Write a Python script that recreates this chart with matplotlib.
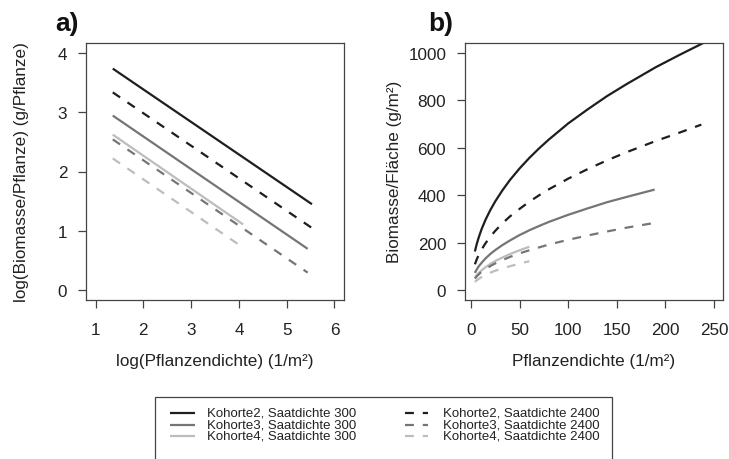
import matplotlib
matplotlib.use('Agg')
import matplotlib.pyplot as plt
from matplotlib.lines import Line2D
from matplotlib.patches import Rectangle

plt.rcParams['font.family'] = ['Liberation Sans', 'DejaVu Sans']

W, H = 729, 460

# ---------------- data ----------------
series_labels = ["Kohorte2, Saatdichte 300", "Kohorte3, Saatdichte 300", "Kohorte4, Saatdichte 300",
                 "Kohorte2, Saatdichte 2400", "Kohorte3, Saatdichte 2400", "Kohorte4, Saatdichte 2400"]

# panel a: log(biomass/plant) vs log(density), straight lines (start, end)
a_k2_x = [1.36, 5.53]
a_k2_300_y = [3.73, 1.45]
a_k2_2400_y = [3.33, 1.05]
a_k3_x = [1.36, 5.44]
a_k3_300_y = [2.94, 0.70]
a_k3_2400_y = [2.54, 0.30]
a_k4_x = [1.36, 4.09]
a_k4_300_y = [2.62, 1.11]
a_k4_2400_y = [2.22, 0.72]

# panel b: biomass/area vs density
b_k2_300_x = [4, 5, 6, 8, 11, 15, 20, 25, 32, 40, 50, 60, 70, 80, 100, 120, 140, 160, 190, 215, 240]
b_k2_300_y = [164, 181, 197, 224, 259, 298, 339, 375, 419, 464, 513, 557, 597, 634, 702, 761, 817, 867, 938, 991, 1042]
b_k2_2400_x = [4, 5, 6, 8, 11, 15, 20, 25, 32, 40, 50, 60, 70, 80, 100, 120, 140, 160, 190, 215, 237]
b_k2_2400_y = [110, 121, 132, 150, 173, 199, 227, 251, 281, 311, 343, 373, 400, 425, 470, 510, 547, 581, 628, 664, 697]
b_k3_x = [4, 5, 6, 8, 11, 15, 20, 25, 32, 40, 50, 60, 70, 80, 100, 120, 140, 160, 189]
b_k3_300_y = [74, 82, 89, 102, 117, 135, 154, 170, 190, 210, 233, 253, 271, 288, 318, 345, 371, 393, 424]
b_k3_2400_y = [50, 55, 60, 68, 79, 90, 103, 114, 127, 141, 156, 169, 181, 193, 213, 231, 248, 264, 284]
b_k4_x = [4, 5, 6, 8, 11, 15, 20, 25, 32, 40, 50, 60]
b_k4_300_y = [54, 60, 65, 74, 85, 98, 112, 124, 138, 153, 169, 184]
b_k4_2400_y = [36, 40, 43, 49, 57, 66, 75, 83, 92, 102, 113, 123]

a_xticks = [1, 2, 3, 4, 5, 6]
a_yticks = [0, 1, 2, 3, 4]
b_xticks = [0, 50, 100, 150, 200, 250]
b_yticks = [0, 200, 400, 600, 800, 1000]

# ---------------- styles ----------------
c_dark, c_mid, c_light = '#1e1e1e', '#757575', '#bdbdbd'
LW = 1.6
DASH = (0, (4, 4))
styles = [
    dict(color=c_dark, lw=LW, ls='-'),
    dict(color=c_mid, lw=LW, ls='-'),
    dict(color=c_light, lw=LW, ls='-'),
    dict(color=c_dark, lw=LW, ls=DASH),
    dict(color=c_mid, lw=LW, ls=DASH),
    dict(color=c_light, lw=LW, ls=DASH),
]

fig = plt.figure(figsize=(W / 100, H / 100), dpi=100)

def fx(px):
    return px / W

def fy(py):
    return 1 - py / H

box_top, box_bot = 44, 301
axA = fig.add_axes([fx(86), fy(box_bot), (344 - 86) / W, (box_bot - box_top) / H])
axB = fig.add_axes([fx(465), fy(box_bot), (723 - 465) / W, (box_bot - box_top) / H])

a_data = [(a_k2_x, a_k2_300_y), (a_k3_x, a_k3_300_y), (a_k4_x, a_k4_300_y),
          (a_k2_x, a_k2_2400_y), (a_k3_x, a_k3_2400_y), (a_k4_x, a_k4_2400_y)]
b_data = [(b_k2_300_x, b_k2_300_y), (b_k3_x, b_k3_300_y), (b_k4_x, b_k4_300_y),
          (b_k2_2400_x, b_k2_2400_y), (b_k3_x, b_k3_2400_y), (b_k4_x, b_k4_2400_y)]

for (x, y), st in zip(a_data, styles):
    axA.plot(x, y, solid_capstyle='butt', dash_capstyle='butt', **st)
for (x, y), st in zip(b_data, styles):
    axB.plot(x, y, solid_capstyle='butt', dash_capstyle='butt', **st)

axA.set_xlim(0.8, 6.2)
axA.set_ylim(-0.16, 4.16)
axA.set_xticks(a_xticks)
axA.set_yticks(a_yticks)
axB.set_xlim(-6.2, 259.3)
axB.set_ylim(-40, 1040)
axB.set_xticks(b_xticks)
axB.set_yticks(b_yticks)

FS = 12.3
for ax in (axA, axB):
    for sp in ax.spines.values():
        sp.set_color('#444444')
        sp.set_linewidth(0.9)
    ax.tick_params(direction='out', length=6, width=0.9, color='#444444',
                   labelsize=FS, labelcolor='#222222')
    ax.tick_params(axis='x', pad=9.5)
    ax.tick_params(axis='y', pad=7.5)

# labels
tcol = '#222222'
fig.text(fx(55), fy(24), 'a)', fontsize=19, fontweight='bold', ha='left', va='center', color='#111111')
fig.text(fx(428), fy(24), 'b)', fontsize=19, fontweight='bold', ha='left', va='center', color='#111111')
fig.text(fx(215), fy(362), 'log(Pflanzendichte) (1/m²)', fontsize=FS, ha='center', va='center', color=tcol)
fig.text(fx(594), fy(362), 'Pflanzendichte (1/m²)', fontsize=FS, ha='center', va='center', color=tcol)
fig.text(fx(22), fy(172), 'log(Biomasse/Pflanze) (g/Pflanze)', fontsize=FS, ha='center', va='center',
         rotation=90, color=tcol)
fig.text(fx(395), fy(172), 'Biomasse/Fläche (g/m²)', fontsize=FS, ha='center', va='center',
         rotation=90, color=tcol)

# legend (manual)
fig.add_artist(Rectangle((fx(155), fy(470)), (612 - 155) / W, (470 - 398) / H,
                         transform=fig.transFigure, fill=False, edgecolor='#444444', lw=0.9))
rows_y = [414, 425.5, 437]
col_handles = [(170, 195, 207), (405, 428, 443)]
for i, (lab, st) in enumerate(zip(series_labels, styles)):
    col, row = divmod(i, 3)
    hx0, hx1, tx = col_handles[col]
    y = rows_y[row]
    fig.add_artist(Line2D([fx(hx0), fx(hx1)], [fy(y), fy(y)], transform=fig.transFigure,
                          dash_capstyle='butt', solid_capstyle='butt', **st))
    fig.text(fx(tx), fy(y), lab, fontsize=9.5, ha='left', va='center', color=tcol)

fig.savefig('out.png', dpi=100)
